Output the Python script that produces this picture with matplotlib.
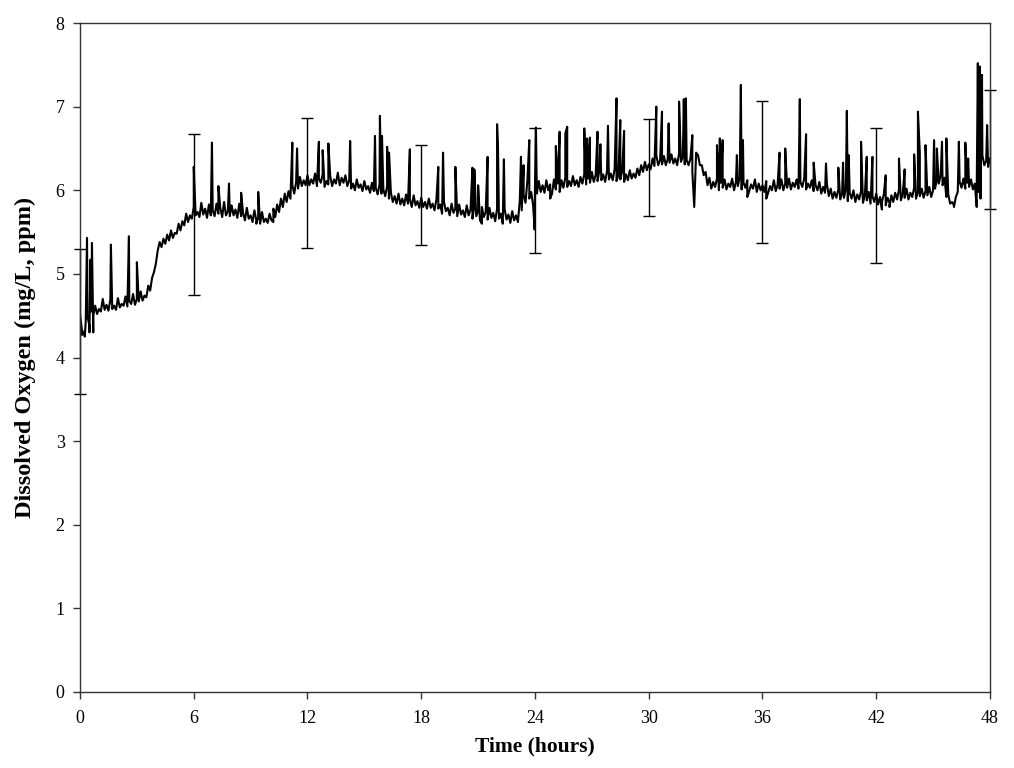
import numpy as np
import matplotlib
matplotlib.use("Agg")
import matplotlib.pyplot as plt

plt.rcParams['font.family'] = ['Liberation Serif', 'DejaVu Serif']

# dissolved oxygen readings on the upper side of the band, every 0.2 h (0 .. 48 h)
base_step = 0.2
base_do = [
    4.52, 4.31, 4.48, 4.55, 4.62, 4.58, 4.70, 4.63, 4.69, 4.62,
    4.71, 4.64, 4.73, 4.68, 4.76, 4.70, 4.79, 4.74, 4.86, 4.95,
    5.12, 5.38, 5.42, 5.47, 5.52, 5.49, 5.60, 5.63, 5.72, 5.70,
    5.80, 5.74, 5.85, 5.78, 5.83, 5.76, 5.84, 5.79, 5.86, 5.75,
    5.82, 5.77, 5.84, 5.73, 5.79, 5.70, 5.76, 5.68, 5.74, 5.66,
    5.72, 5.78, 5.83, 5.90, 5.96, 5.99, 6.06, 6.10, 6.16, 6.12,
    6.18, 6.13, 6.20, 6.14, 6.19, 6.11, 6.17, 6.13, 6.21, 6.15,
    6.18, 6.12, 6.08, 6.13, 6.07, 6.11, 6.05, 6.09, 6.03, 6.07,
    6.01, 6.05, 5.97, 5.93, 5.96, 5.90, 5.95, 5.89, 5.94, 5.87,
    5.91, 5.86, 5.90, 5.84, 5.89, 5.83, 5.86, 5.79, 5.84, 5.78,
    5.83, 5.76, 5.82, 5.77, 5.81, 5.75, 5.80, 5.74, 5.79, 5.73,
    5.78, 5.72, 5.77, 5.71, 5.75, 5.70, 5.88, 5.95, 6.12, 5.98,
    6.05, 6.11, 6.06, 6.12, 6.07, 6.13, 6.08, 6.12, 6.15, 6.11,
    6.17, 6.12, 6.16, 6.19, 6.14, 6.22, 6.18, 6.24, 6.19, 6.23,
    6.20, 6.25, 6.18, 6.23, 6.19, 6.24, 6.20, 6.26, 6.30, 6.34,
    6.31, 6.38, 6.42, 6.36, 6.41, 6.37, 6.43, 6.38, 6.44, 6.40,
    6.36, 6.38, 5.80, 6.42, 6.30, 6.22, 6.15, 6.10, 6.14, 6.09,
    6.13, 6.08, 6.14, 6.10, 6.15, 6.09, 6.12, 6.07, 6.13, 6.08,
    6.06, 6.11, 6.05, 6.12, 6.07, 6.13, 6.08, 6.14, 6.09, 6.13,
    6.10, 6.14, 6.08, 6.12, 6.06, 6.10, 6.04, 6.07, 6.02, 5.98,
    6.01, 5.96, 6.02, 5.97, 6.00, 5.95, 5.99, 5.94, 5.98, 5.93,
    5.96, 5.92, 5.95, 5.91, 5.94, 5.97, 6.01, 5.96, 6.02, 5.97,
    6.03, 5.98, 6.02, 5.99, 6.04, 6.00, 6.12, 6.18, 6.15, 5.95,
    5.86, 5.92, 6.10, 6.14, 6.09, 6.13, 6.08, 5.98, 6.42, 6.35,
    6.38,
]

# readings on the lower side of the band, halfway between (0.1, 0.3, ... 47.9 h)
mid_do = [
    4.33, 4.42, 4.38, 4.50, 4.52, 4.55, 4.57, 4.56, 4.58, 4.57,
    4.60, 4.62, 4.61, 4.64, 4.63, 4.67, 4.68, 4.72, 4.80, 5.02,
    5.28, 5.32, 5.36, 5.40, 5.43, 5.48, 5.52, 5.58, 5.62, 5.66,
    5.70, 5.68, 5.71, 5.67, 5.70, 5.69, 5.72, 5.68, 5.70, 5.69,
    5.70, 5.67, 5.69, 5.64, 5.66, 5.62, 5.64, 5.60, 5.62, 5.61,
    5.64, 5.68, 5.74, 5.80, 5.86, 5.90, 5.96, 6.02, 6.05, 6.06,
    6.06, 6.08, 6.05, 6.09, 6.04, 6.07, 6.05, 6.08, 6.06, 6.09,
    6.05, 6.02, 6.00, 6.03, 5.99, 6.01, 5.97, 5.99, 5.95, 5.96,
    5.93, 5.90, 5.86, 5.84, 5.83, 5.82, 5.84, 5.80, 5.82, 5.79,
    5.80, 5.78, 5.79, 5.76, 5.78, 5.72, 5.75, 5.70, 5.73, 5.69,
    5.71, 5.68, 5.70, 5.66, 5.69, 5.64, 5.68, 5.65, 5.67, 5.63,
    5.66, 5.62, 5.65, 5.61, 5.64, 5.62, 5.76, 5.85, 5.90, 5.82,
    5.96, 5.98, 5.97, 6.00, 5.96, 6.01, 5.98, 6.03, 6.04, 6.05,
    6.06, 6.04, 6.08, 6.07, 6.09, 6.10, 6.11, 6.12, 6.10, 6.13,
    6.12, 6.11, 6.13, 6.10, 6.12, 6.14, 6.15, 6.18, 6.22, 6.24,
    6.25, 6.29, 6.30, 6.31, 6.30, 6.33, 6.32, 6.30, 6.34, 6.31,
    6.30, 6.22, 6.45, 6.30, 6.18, 6.06, 6.02, 6.04, 6.00, 6.03,
    6.01, 6.04, 6.00, 6.05, 6.01, 6.03, 5.99, 6.02, 5.98, 6.00,
    5.98, 5.97, 6.00, 5.99, 6.02, 6.00, 6.03, 6.01, 6.04, 6.02,
    6.04, 6.01, 6.03, 5.99, 6.00, 5.96, 5.97, 5.93, 5.90, 5.91,
    5.89, 5.91, 5.87, 5.90, 5.86, 5.89, 5.85, 5.88, 5.84, 5.86,
    5.83, 5.86, 5.82, 5.85, 5.86, 5.89, 5.88, 5.91, 5.89, 5.92,
    5.90, 5.93, 5.91, 5.94, 5.92, 6.02, 6.08, 6.06, 5.92, 5.84,
    5.82, 5.98, 6.03, 6.02, 6.04, 6.01, 5.99, 5.90, 6.30, 6.28,
]

# short spikes in the record (hours, mg/L)
spike_t = [0.10, 0.37, 0.50, 0.55, 0.63, 1.63, 2.58, 3.00, 6.00, 6.96,
           7.30, 7.86, 8.50, 9.40, 11.20, 11.45, 12.60, 12.80, 13.10, 14.25,
           15.56, 15.82, 15.93, 16.20, 16.30, 17.40, 18.90, 19.15, 19.80, 20.70,
           20.80, 21.00, 21.50, 22.00, 22.05, 22.36, 23.26, 23.40, 23.70, 23.98,
           24.05, 25.10, 25.30, 25.60, 25.70, 26.60, 26.75, 26.90, 27.30, 27.45,
           27.85, 28.30, 28.50, 28.70, 30.40, 30.70, 31.05, 31.60, 31.85, 31.96,
           32.30, 33.60, 33.75, 33.90, 34.65, 34.86, 34.97, 36.90, 37.20, 37.97,
           38.30, 38.70, 39.35, 40.00, 40.25, 40.45, 40.55, 41.20, 41.50, 41.80,
           42.50, 43.20, 43.50, 44.00, 44.20, 44.30, 44.60, 45.05, 45.20, 45.47,
           45.70, 46.36, 46.70, 46.85, 47.36, 47.47, 47.58, 47.85]
spike_do = [4.27, 5.43, 4.30, 5.17, 5.37, 5.35, 5.45, 5.14, 6.28, 6.57,
            6.05, 6.08, 5.97, 5.98, 6.57, 6.50, 6.58, 6.48, 6.56, 6.59,
            6.65, 6.89, 6.65, 6.52, 6.45, 6.49, 6.28, 6.45, 6.28, 6.27,
            6.25, 6.06, 6.40, 6.79, 6.50, 6.37, 6.40, 6.30, 6.60, 5.53,
            6.75, 6.53, 6.70, 6.68, 6.76, 6.74, 6.62, 6.63, 6.70, 6.55,
            6.77, 7.10, 6.84, 6.71, 7.00, 6.94, 6.80, 7.06, 7.09, 7.10,
            6.66, 6.54, 6.62, 6.60, 6.42, 7.26, 6.60, 6.45, 6.50, 7.09,
            6.67, 6.33, 6.32, 6.27, 6.33, 6.95, 6.42, 6.58, 6.40, 6.40,
            6.18, 6.38, 6.25, 6.43, 6.94, 6.45, 6.54, 6.60, 6.50, 6.58,
            6.62, 6.58, 6.57, 6.38, 7.52, 7.48, 7.38, 6.78]

# short downward excursions
dip_t = [0.25, 0.70, 9.30, 10.20, 21.20, 22.30, 23.10, 24.80, 35.20, 36.20,
         42.30, 42.70, 46.10, 47.30]
dip_do = [4.25, 4.30, 5.60, 5.62, 5.60, 5.60, 5.62, 5.90, 5.92, 5.90,
          5.77, 5.80, 5.80, 5.80]

# 6-hourly means with error bars
err_t = [0, 6, 12, 18, 24, 30, 36, 42, 48]
err_mean = [4.43, 5.71, 6.09, 5.94, 6.00, 6.27, 6.22, 5.94, 6.49]
err_size = [0.87, 0.96, 0.78, 0.60, 0.75, 0.58, 0.85, 0.81, 0.71]

base_t = [i * base_step for i in range(len(base_do))]
mid_t = [0.1 + i * base_step for i in range(len(mid_do))]
t_all = np.array(base_t + mid_t + spike_t + dip_t)
do_all = np.array(base_do + mid_do + spike_do + dip_do)
order = np.argsort(t_all, kind="stable")
t_all = t_all[order]
do_all = do_all[order]

fig = plt.figure(figsize=(10.14, 7.68), dpi=100)
ax = fig.add_axes([0.0789, 0.099, 0.8974, 0.871])

ax.plot(t_all, do_all, color="black", linewidth=1.5)
ax.errorbar(err_t, err_mean, yerr=err_size, fmt="none", ecolor="black",
            elinewidth=1.0, capsize=4, capthick=1.0, clip_on=False)

ax.set_xlim(0, 48)
ax.set_ylim(0, 8)
ax.set_xticks([0, 6, 12, 18, 24, 30, 36, 42, 48])
ax.set_yticks(range(0, 9))
ax.tick_params(direction="out", length=5, width=1, colors="#333333",
               labelsize=13, labelcolor="black")
ax.tick_params(axis="x", pad=8)
ax.tick_params(axis="y", pad=6)
for side in ax.spines.values():
    side.set_color("#333333")
    side.set_linewidth(1.0)

ax.set_xlabel("Time (hours)", fontsize=15.5, fontweight="bold", labelpad=7)
ax.set_ylabel("Dissolved Oxygen (mg/L, ppm)", fontsize=17.5, fontweight="bold", labelpad=14)

fig.savefig("out.png", dpi=100)
